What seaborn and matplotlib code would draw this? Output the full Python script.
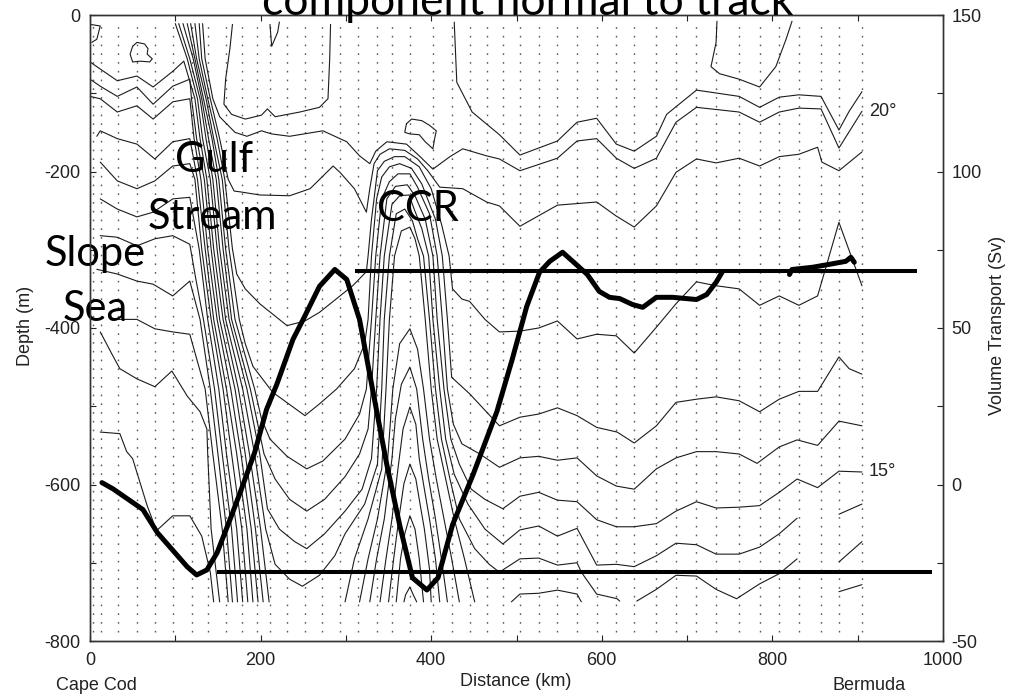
import numpy as np
import pandas as pd
import matplotlib
matplotlib.use("Agg")
import matplotlib.pyplot as plt
import seaborn as sns

# ---------------- data ----------------
# hydrographic stations (km along track)
station_km = [4, 13, 33, 55, 76, 97, 119, 138, 160, 178, 196, 211, 231, 252, 272, 293, 314, 336,
              354, 375, 402, 424, 445, 465, 484, 504, 526, 548, 571, 594, 617, 638, 664, 687, 711,
              734, 761, 785, 808, 831, 857, 878, 905]

# isotherms (distance km, depth m)
t21_east_km = [427, 430, 448, 480, 504, 548, 571, 594, 617, 638, 664, 676, 711, 761, 785, 808, 831, 857, 878, 890, 905]
t21_east_depth = [-9, -86, -124, -153, -179, -161, -137, -132, -165, -174, -155, -127, -96, -104, -118, -105, -102, -104, -147, -123, -98]

t21_gs_km = [167, 164, 159, 157, 166, 182, 201, 208, 217, 246, 269, 279, 281, 282]
t21_gs_depth = [-12, -43, -82, -114, -127, -133, -128, -120, -130, -124, -118, -107, -56, -12]

t21_u_km = [735, 734, 728, 738, 761, 785, 804, 816, 823]
t21_u_depth = [-8, -35, -66, -75, -82, -92, -66, -31, -8]

t20_km = [132, 135, 144, 152, 170, 184, 201, 213, 234, 273, 301, 316, 328, 335, 348, 371, 386, 402, 422, 437,
          465, 480, 504, 548, 571, 594, 617, 638, 664, 687, 711, 761, 785, 808, 831, 857, 878, 905]
t20_depth = [-11, -56, -107, -130, -150, -155, -148, -152, -155, -148, -162, -180, -190, -174, -162, -165, -180,
             -197, -181, -171, -180, -184, -199, -183, -161, -158, -183, -196, -183, -137, -118, -124, -137,
             -124, -119, -120, -170, -123]

t19_km = [128, 131, 141, 152, 162, 169, 176, 199, 234, 258, 285, 293, 310, 324, 328, 333, 340, 351, 369, 384,
          396, 410, 437, 465, 480, 504, 548, 594, 617, 638, 664, 687, 711, 734, 761, 785, 808, 831, 853, 858,
          878, 905]
t19_depth = [-11, -56, -107, -158, -210, -225, -226, -230, -231, -222, -193, -201, -222, -252, -222, -190, -178,
             -171, -173, -184, -199, -220, -222, -239, -244, -270, -243, -239, -257, -271, -244, -201, -184,
             -189, -183, -193, -181, -178, -169, -188, -199, -175]

t18_km = [123, 128, 138, 149, 158, 167, 172, 182, 199, 231, 252, 269, 308, 324, 326, 330, 333, 337, 345, 357,
          369, 386, 400, 412, 421, 425, 436, 445, 463, 480, 504, 526, 548, 571, 594, 617, 638, 664, 687, 711,
          734, 761, 785, 808, 831, 853, 878, 905]
t18_depth = [-11, -56, -107, -158, -210, -299, -331, -350, -369, -397, -391, -380, -346, -328, -308, -261, -235,
             -199, -187, -181, -181, -194, -222, -267, -308, -350, -363, -366, -389, -405, -404, -400, -391,
             -414, -408, -410, -432, -399, -369, -341, -346, -350, -371, -359, -371, -359, -265, -346]

t17_km = [118, 125, 136, 145, 155, 163, 175, 182, 191, 214, 252, 269, 289, 310, 322, 326, 330, 336, 342, 351,
          363, 377, 389, 405, 413, 419, 424, 445, 480, 504, 526, 548, 571, 594, 618, 638, 664, 687, 711, 734,
          761, 785, 808, 831, 853, 878, 890, 905]
t17_depth = [-11, -56, -107, -158, -210, -299, -389, -420, -449, -482, -512, -497, -478, -452, -420, -389, -308,
             -235, -207, -194, -190, -196, -216, -261, -308, -389, -463, -484, -525, -514, -510, -502, -512,
             -527, -533, -547, -525, -495, -491, -488, -493, -507, -491, -481, -481, -437, -452, -459]

t16_km = [114, 123, 133, 143, 151, 159, 170, 193, 201, 211, 231, 254, 273, 299, 316, 324, 330, 335, 342, 351,
          361, 375, 384, 398, 407, 413, 419, 426, 436, 457, 480, 504, 526, 548, 571, 594, 617, 638, 664, 687,
          711, 734, 761, 782, 808, 829, 853, 878, 905]
t16_depth = [-11, -56, -107, -158, -210, -299, -389, -478, -516, -542, -564, -580, -570, -542, -510, -478, -389,
             -308, -235, -213, -203, -203, -220, -254, -308, -389, -478, -523, -548, -561, -578, -566, -564,
             -569, -566, -589, -602, -606, -580, -566, -558, -558, -561, -573, -552, -543, -550, -519, -525]

t15_km = [109, 121, 131, 139, 148, 156, 166, 188, 204, 217, 234, 254, 275, 299, 316, 326, 330, 335, 340, 348,
          358, 372, 381, 393, 402, 407, 415, 423, 433, 447, 463, 484, 504, 526, 548, 571, 594, 617, 638, 664,
          687, 711, 734, 761, 785, 808, 829, 853, 878, 905]
t15_depth = [-11, -56, -107, -158, -210, -299, -389, -478, -561, -593, -619, -634, -619, -590, -561, -529, -478,
             -389, -308, -235, -219, -217, -231, -261, -308, -389, -478, -542, -574, -606, -619, -631, -615,
             -610, -620, -622, -645, -654, -654, -650, -634, -622, -630, -629, -627, -610, -593, -604, -583, -584]

t14_km = [104, 117, 129, 136, 144, 152, 163, 184, 199, 208, 222, 240, 254, 275, 299, 319, 330, 336, 340, 345,
          354, 363, 374, 380, 389, 397, 402, 410, 417, 427, 443, 463, 484, 504, 526, 548, 571, 594, 617, 638,
          664, 687, 711, 734, 761, 785, 808, 829]
t14_depth = [-11, -56, -107, -158, -210, -299, -389, -478, -561, -631, -657, -673, -682, -663, -634, -606, -567,
             -478, -389, -308, -242, -231, -230, -248, -273, -308, -389, -478, -542, -587, -625, -657, -676,
             -658, -653, -666, -656, -703, -702, -705, -691, -675, -677, -689, -689, -680, -663, -643]
t14_east_km = [878, 905]
t14_east_depth = [-638, -625]

t13_km = [100, 114, 126, 132, 141, 149, 159, 179, 193, 206, 217, 234, 249, 269, 287, 299, 322, 337, 342, 345,
          351, 359, 369, 378, 384, 391, 398, 405, 412, 422, 433, 451, 468, 480, 504, 526, 548, 571, 576, 594,
          618, 621]
t13_depth = [-11, -56, -107, -158, -210, -299, -389, -478, -561, -657, -702, -721, -730, -716, -691, -663, -625,
             -574, -478, -389, -308, -254, -248, -263, -286, -308, -389, -478, -542, -593, -644, -682, -702,
             -712, -695, -694, -703, -700, -712, -740, -746, -749]
t13_east_km = [641, 664, 687, 711, 734, 758, 785, 808, 829]
t13_east_depth = [-749, -734, -716, -717, -734, -746, -727, -714, -695]
t13_far_km = [878, 905]
t13_far_depth = [-699, -673]

t12_ring_km = [299, 310, 326, 342, 347, 351, 357, 365, 375, 381, 386, 393, 400, 407, 417, 427, 439, 451]
t12_ring_depth = [-750, -695, -644, -580, -478, -389, -308, -276, -271, -286, -308, -389, -478, -542, -593, -644, -695, -750]
t12_east_km = [494, 504, 526, 548, 571, 576]
t12_east_depth = [-750, -740, -739, -735, -740, -750]
t12_far_km = [878, 905]
t12_far_depth = [-737, -728]

t11_ring_km = [316, 326, 337, 349, 355, 363, 375, 384, 391, 398, 406, 415, 424, 433]
t11_ring_depth = [-750, -695, -644, -567, -478, -420, -401, -427, -478, -542, -593, -644, -695, -750]
t10_ring_km = [328, 336, 345, 354, 358, 365, 375, 383, 390, 397, 405, 412, 419]
t10_ring_depth = [-750, -695, -644, -567, -516, -472, -450, -478, -542, -593, -644, -695, -750]
t9_ring_km = [340, 347, 354, 361, 367, 375, 382, 386, 392, 398, 405, 410]
t9_ring_depth = [-750, -695, -644, -580, -529, -501, -523, -567, -606, -644, -695, -750]
t8_ring_km = [350, 356, 362, 368, 375, 382, 386, 392, 398, 400]
t8_ring_depth = [-750, -695, -644, -599, -574, -593, -619, -657, -708, -750]
t7_ring_km = [359, 364, 369, 375, 381, 386, 391]
t7_ring_depth = [-750, -695, -663, -640, -657, -695, -750]
t6_ring_km = [368, 370, 375, 379, 383]
t6_ring_depth = [-750, -741, -731, -741, -750]

# Slope Sea isotherms plunging into the Gulf Stream front
slope_a_km = [0, 12, 32, 55, 74, 97, 110, 123, 129, 137, 145, 156, 174, 187, 200, 210]
slope_a_depth = [-60, -69, -84, -78, -92, -72, -59, -107, -158, -210, -299, -389, -478, -561, -657, -750]
slope_b_km = [0, 12, 32, 55, 74, 97, 117, 119, 125, 134, 142, 152, 170, 182, 194, 203]
slope_b_depth = [-82, -91, -104, -92, -114, -91, -82, -107, -158, -210, -299, -389, -478, -561, -657, -750]
slope_c_km = [0, 12, 32, 55, 74, 97, 117, 122, 130, 138, 149, 165, 177, 189, 197]
slope_c_depth = [-104, -107, -124, -116, -133, -111, -107, -158, -210, -299, -389, -478, -561, -657, -750]
slope_d_km = [8, 12, 32, 55, 76, 97, 117, 126, 135, 145, 160, 172, 184, 191]
slope_d_depth = [-155, -148, -158, -165, -184, -162, -158, -210, -299, -389, -478, -561, -657, -750]
slope_e_km = [12, 32, 55, 76, 97, 117, 123, 131, 142, 156, 166, 178, 185]
slope_e_depth = [-188, -212, -222, -212, -193, -190, -210, -299, -389, -478, -561, -657, -750]
slope_f_km = [12, 32, 55, 74, 97, 117, 128, 138, 151, 160, 172, 179]
slope_f_depth = [-235, -248, -258, -252, -235, -233, -299, -389, -478, -561, -657, -750]
slope_g_km = [12, 32, 55, 76, 97, 117, 124, 133, 146, 155, 166, 173]
slope_g_depth = [-282, -284, -295, -286, -282, -293, -337, -389, -478, -561, -657, -750]
slope_h_km = [8, 32, 55, 74, 97, 117, 129, 141, 150, 160, 167]
slope_h_depth = [-325, -331, -340, -344, -359, -340, -389, -478, -561, -657, -750]
slope_i_km = [27, 55, 76, 97, 117, 135, 144, 155, 162]
slope_i_depth = [-389, -389, -401, -405, -408, -478, -561, -657, -750]
slope_j_km = [12, 27, 35, 55, 76, 96, 114, 129, 137, 138, 142, 152]
slope_j_depth = [-405, -436, -452, -465, -475, -455, -487, -507, -529, -561, -657, -750]
slope_k_km = [12, 35, 43, 50, 67, 78, 97, 117, 131, 141, 145]
slope_k_depth = [-533, -535, -558, -567, -627, -659, -640, -640, -666, -712, -750]

# small closed/partial contours near the surface
eddy_nw_km = [50, 55, 64, 68, 67, 73, 70, 59, 50, 47, 50]
eddy_nw_depth = [-40, -35, -37, -43, -50, -56, -60, -59, -60, -50, -40]
curl_nw_km = [0, 12, 8, 2]
curl_nw_depth = [-12, -14, -31, -35]
notch_gs_km = [211, 213, 220, 222]
notch_gs_depth = [-12, -40, -22, -9]
eddy_ring_km = [371, 377, 389, 398, 406, 404, 402, 393, 386, 375, 369, 371]
eddy_ring_depth = [-139, -133, -135, -141, -148, -158, -171, -162, -153, -152, -150, -139]

# volume transport (Sv), right axis
transport_km = [14, 27, 62, 79, 97, 114, 125, 137, 149, 164, 176, 193, 207, 219, 238, 250, 269, 287, 301, 316,
                328, 348, 363, 378, 395, 408, 425, 449, 477, 495, 512, 527, 539, 554, 570, 583, 597, 609, 621,
                636, 648, 664, 683, 711, 723, 734, 741]
transport_sv = [0.6, -1.4, -8, -15.4, -21, -26.3, -28.9, -27.3, -21.8, -11.3, -2.6, 10.2, 24, 32, 46.4, 52.8,
                63.3, 68.7, 65.5, 52.7, 35.1, 6.3, -12.9, -29.8, -33.7, -29.8, -12.9, 3.1, 23.3, 40, 56.9, 67.8,
                71.3, 74.2, 70.3, 67.1, 61.7, 59.8, 59.4, 57.5, 56.6, 59.8, 59.8, 59.1, 60.7, 64.6, 67.8]
transport_east_km = [820, 823, 847, 866, 886, 892, 896]
transport_east_sv = [67.1, 68.7, 69.4, 70.3, 71.3, 72.6, 71.0]

# reference transport levels (Sv) and their extent (km)
ref_sv = [68.2, -27.8]
ref_start_km = [311, 149]
ref_end_km = [970, 987]

# ---------------- assemble long-form tables ----------------
iso_lines = {
    "t21_east": (t21_east_km, t21_east_depth), "t21_gs": (t21_gs_km, t21_gs_depth),
    "t21_u": (t21_u_km, t21_u_depth), "t20": (t20_km, t20_depth), "t19": (t19_km, t19_depth),
    "t18": (t18_km, t18_depth), "t17": (t17_km, t17_depth), "t16": (t16_km, t16_depth),
    "t15": (t15_km, t15_depth), "t14": (t14_km, t14_depth), "t14_east": (t14_east_km, t14_east_depth),
    "t13": (t13_km, t13_depth), "t13_east": (t13_east_km, t13_east_depth), "t13_far": (t13_far_km, t13_far_depth),
    "t12_ring": (t12_ring_km, t12_ring_depth), "t12_east": (t12_east_km, t12_east_depth),
    "t12_far": (t12_far_km, t12_far_depth), "t11_ring": (t11_ring_km, t11_ring_depth),
    "t10_ring": (t10_ring_km, t10_ring_depth), "t9_ring": (t9_ring_km, t9_ring_depth),
    "t8_ring": (t8_ring_km, t8_ring_depth), "t7_ring": (t7_ring_km, t7_ring_depth),
    "t6_ring": (t6_ring_km, t6_ring_depth),
    "slope_a": (slope_a_km, slope_a_depth), "slope_b": (slope_b_km, slope_b_depth),
    "slope_c": (slope_c_km, slope_c_depth), "slope_d": (slope_d_km, slope_d_depth),
    "slope_e": (slope_e_km, slope_e_depth), "slope_f": (slope_f_km, slope_f_depth),
    "slope_g": (slope_g_km, slope_g_depth), "slope_h": (slope_h_km, slope_h_depth),
    "slope_i": (slope_i_km, slope_i_depth), "slope_j": (slope_j_km, slope_j_depth),
    "slope_k": (slope_k_km, slope_k_depth),
    "eddy_nw": (eddy_nw_km, eddy_nw_depth), "curl_nw": (curl_nw_km, curl_nw_depth),
    "notch_gs": (notch_gs_km, notch_gs_depth), "eddy_ring": (eddy_ring_km, eddy_ring_depth),
}
iso = pd.concat([pd.DataFrame({"distance": k, "depth": d, "line": name})
                 for name, (k, d) in iso_lines.items()], ignore_index=True)

transport = pd.concat([
    pd.DataFrame({"distance": transport_km, "sv": transport_sv, "seg": "main"}),
    pd.DataFrame({"distance": transport_east_km, "sv": transport_east_sv, "seg": "east"}),
], ignore_index=True)

refs = pd.DataFrame({
    "distance": [v for pair in zip(ref_start_km, ref_end_km) for v in pair],
    "sv": [v for s in ref_sv for v in (s, s)],
    "ref": [i for i in range(len(ref_sv)) for _ in (0, 1)],
})

# ---------------- plotting ----------------
sns.set_style("ticks")
plt.rcParams["font.family"] = ["Liberation Sans", "DejaVu Sans"]
plt.rcParams["axes.unicode_minus"] = False

W, H = 1025, 694
fig = plt.figure(figsize=(W / 100, H / 100), dpi=100)
ax = fig.add_axes([90 / W, 1 - 641 / H, 853 / W, 626 / H])
ax2 = ax.twinx()

ax.vlines(station_km, -788, -8, colors="0.35", linewidth=1.0,
          linestyles=[(0, (1.2, 5.1))], zorder=1)

sns.lineplot(data=iso, x="distance", y="depth", units="line", estimator=None, sort=False,
             color="#1c1c1c", linewidth=0.8, ax=ax, legend=False, zorder=2)

sns.lineplot(data=refs, x="distance", y="sv", units="ref", estimator=None, sort=False,
             color="black", linewidth=2.9, ax=ax2, legend=False, solid_capstyle="butt")
sns.lineplot(data=transport, x="distance", y="sv", units="seg", estimator=None, sort=False,
             color="black", linewidth=3.6, ax=ax2, legend=False, solid_capstyle="round")

ax.set_xlim(0, 1000)
ax.set_ylim(-800, 0)
ax2.set_ylim(-50, 150)

ax.set_xticks(range(0, 1001, 200))
ax.set_xticks(range(100, 1000, 200), minor=True)
ax.set_yticks(range(-800, 1, 200))
ax.set_yticks(range(-700, 0, 200), minor=True)
ax2.set_yticks(range(-50, 151, 50))
ax2.set_yticks(range(-25, 150, 50), minor=True)

ax.tick_params(axis="both", which="both", direction="in", top=True, right=False,
               length=4, width=0.8, labelsize=13, colors="#222222")
ax.tick_params(axis="y", pad=7)
ax.tick_params(axis="x", pad=8)
ax2.tick_params(axis="y", which="both", direction="in", length=4, width=0.8,
                labelsize=13, pad=6, colors="#222222")

for a in (ax, ax2):
    for sp in a.spines.values():
        sp.set_color("#333333")
        sp.set_linewidth(1.0)
ax.set_xlabel("")
ax.set_ylabel("")
ax2.set_ylabel("")

# axis labels & place names
fig.text(25 / W, 1 - 326 / H, "Depth (m)", rotation=90, ha="center", va="center", size=13, color="#222222")
fig.text(998 / W, 1 - 325 / H, "Volume Transport (Sv)", rotation=90, ha="center", va="center", size=13, color="#222222")
fig.text(516 / W, 1 - 681 / H, "Distance (km)", ha="center", va="center", size=13, color="#222222")
fig.text(96 / W, 1 - 686 / H, "Cape Cod", ha="center", va="center", size=13, color="#222222")
fig.text(869 / W, 1 - 685 / H, "Bermuda", ha="center", va="center", size=13, color="#222222")

ax.text(913, -123, "20°", ha="left", va="center", size=13, color="#222222")
ax.text(913, -584, "15°", ha="left", va="center", size=13, color="#222222")

# big annotations
big = dict(family="Lato", size=30, ha="center", va="baseline", color="black", zorder=5)
ax.text(145, -201, "Gulf", **big)
ax.text(144, -273, "Stream", **big)
ax.text(384, -263, "CCR", **big)
ax.text(6, -321, "Slope", **big)
ax.text(6, -391, "Sea", **big)

fig.text(527.5 / W, 1 - 15 / H, "component normal to track", family="Lato", size=32,
         ha="center", va="baseline", color="black")

fig.savefig("out.png", dpi=100)
